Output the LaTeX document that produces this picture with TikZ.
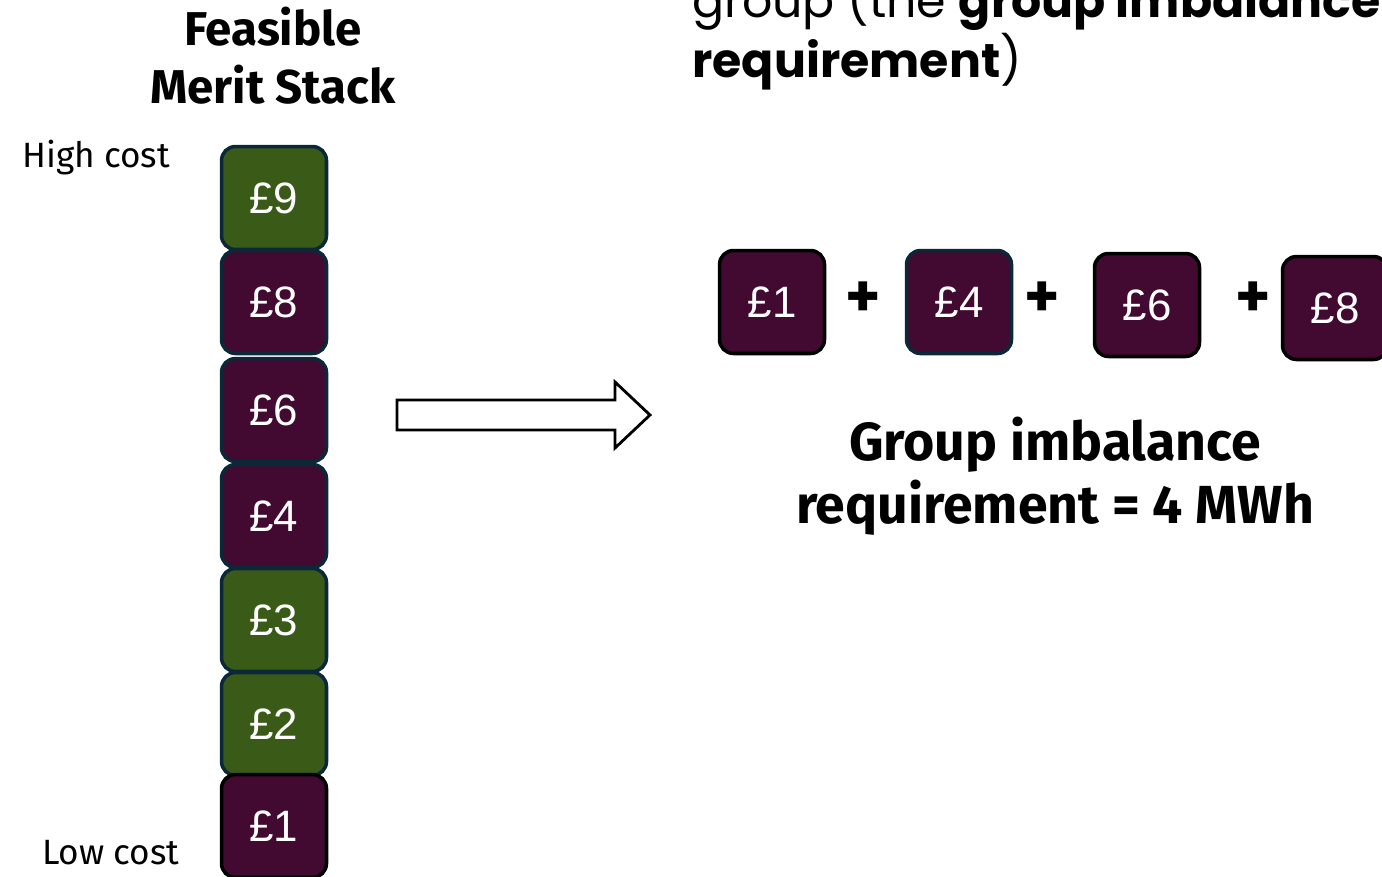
\documentclass[tikz,border=0pt]{standalone}
\usepackage{fontspec}
\setmainfont{Fira Sans}
\newfontfamily\boxfont{Liberation Sans}
\newfontfamily\popfont{Poppins}

\definecolor{stackgreen}{HTML}{3A5A18}
\definecolor{stackplum}{HTML}{420A30}
\definecolor{edgenavy}{HTML}{0B2838}

\tikzset{
costbox/.style={rectangle, rounded corners=0.28cm, minimum width=2.1cm, minimum height=2.06cm, line width=2pt, text=white, inner sep=0pt, font=\boxfont\fontsize{25}{28}\selectfont},
greenbox/.style={costbox, fill=stackgreen, draw=edgenavy},
plumbox/.style={costbox, fill=stackplum, draw=edgenavy},
plussign/.style={font=\bfseries\fontsize{38}{40}\selectfont},
sidelabel/.style={anchor=west, font=\fontsize{20}{22}\selectfont}
}

\begin{document}
\begin{tikzpicture}[x=0.02cm, y=-0.02cm]
\useasboundingbox (0,0) rectangle (1382,876);

% heading over the stack
\node[font=\bfseries\fontsize{27}{33}\selectfont, align=center] (title) at (273,56) {Feasible\\Merit Stack};
\node[sidelabel] (high) at (16,158) {High cost};
\node[sidelabel] (low) at (36,853) {Low cost};

% the merit stack
\node[greenbox] (s9) at (274,198) {£9};
\node[plumbox] (s8) at (274,302) {£8};
\node[plumbox] (s6) at (274,410) {£6};
\node[plumbox] (s4) at (274,516) {£4};
\node[greenbox] (s3) at (274,620) {£3};
\node[greenbox] (s2) at (274,724) {£2};
\node[plumbox, draw=black] (s1) at (274,826) {£1};

% block arrow
\draw[line width=1.6pt, line join=miter] (397,400) -- (615,400) -- (615,382) -- (650,415)
-- (615,448) -- (615,430) -- (397,430) -- cycle;

% text cut off at the top
\node[anchor=south west, align=left, inner sep=0pt, font=\popfont\fontsize{27}{30}\selectfont] (note) at (692,90)
{group (the \textbf{group imbalance}\\\textbf{requirement})};

% chosen units
\node[plumbox, draw=black] (g1) at (772,302) {£1};
\node[plussign] (p1) at (863,300) {+};
\node[plumbox] (g4) at (959,302) {£4};
\node[plussign] (p2) at (1042,300) {+};
\node[plumbox, draw=black] (g6) at (1147,305) {£6};
\node[plussign] (p3) at (1253,300) {+};
\node[plumbox, draw=black] (g8) at (1335,308) {£8};

\node[font=\bfseries\fontsize{30.5}{36}\selectfont, align=center] (req) at (1055,476) {Group imbalance\\requirement = 4 MWh};
\end{tikzpicture}
\end{document}
